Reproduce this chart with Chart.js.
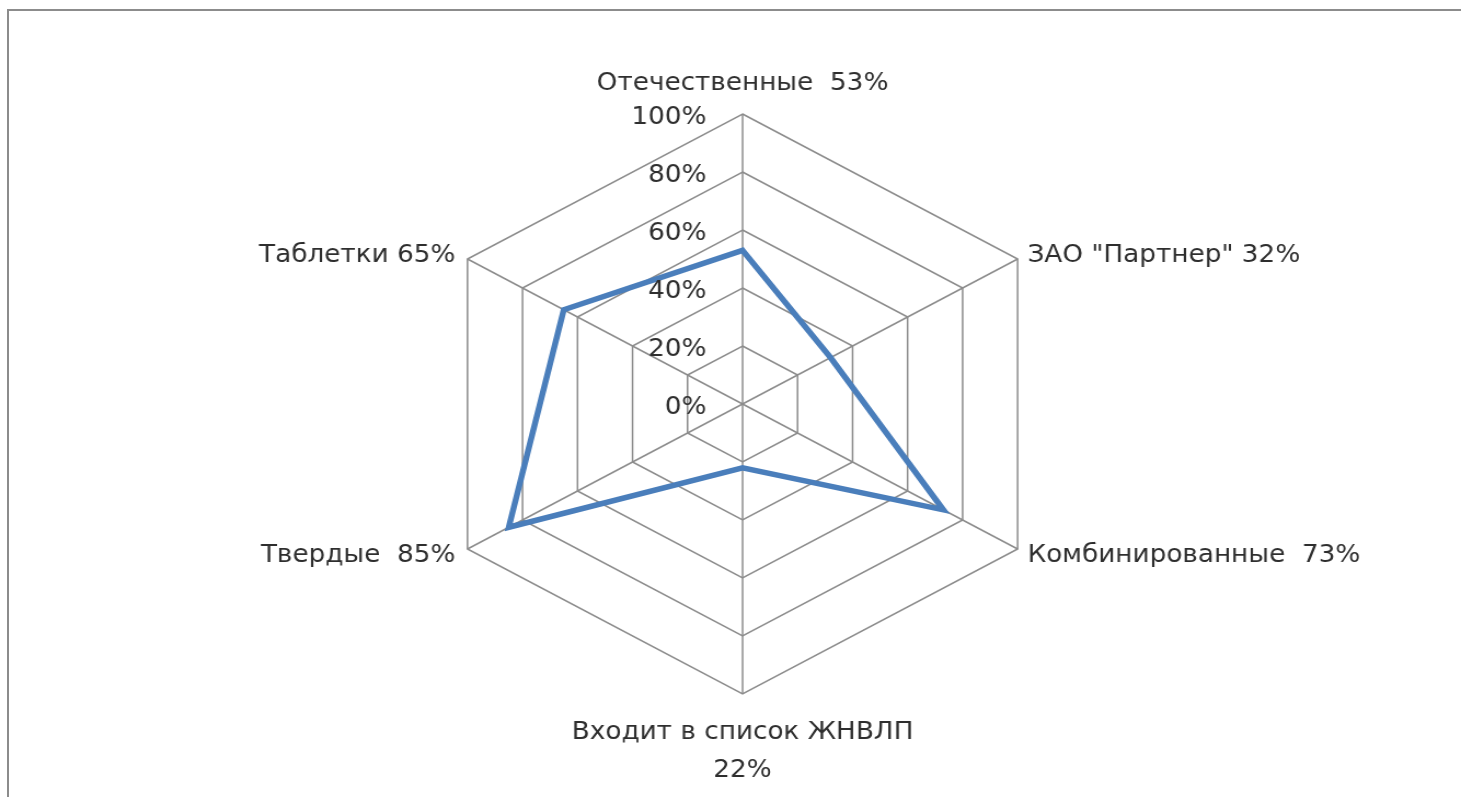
<!DOCTYPE html>
<html>
<head>
<meta charset="utf-8">
<script src="https://cdn.jsdelivr.net/npm/chart.js@4"></script>
<style>
    html, body { margin: 0; padding: 0; background: #fff; overflow: hidden; width: 1461px; height: 797px; }
    .line-top { position: absolute; left: 7px; top: 9px; width: 1454px; height: 2px; background: #8c8c8c; }
    .line-left { position: absolute; left: 7px; top: 9px; width: 2px; height: 788px; background: #8c8c8c; }
    /* the original picture is stretched horizontally, so is this one */
    .stretch {
        position: absolute; left: 0; top: 0; width: 1334px; height: 797px;
        transform: scaleX(1.0952); transform-origin: 0 0;
    }
</style>
</head>
<body>
<div class="stretch"><canvas id="radarChart"></canvas></div>
<div class="line-top"></div>
<div class="line-left"></div>
<script>
const categories = [
    'Отечественные  53%',
    'ЗАО "Партнер" 32%',
    'Комбинированные  73%',
    ['Входит в список ЖНВЛП', '22%'],
    'Твердые  85%',
    'Таблетки 65%'
];
const shareValues = [53, 32, 73, 22, 85, 65];
const tickValues = [0, 20, 40, 60, 80, 100];
const tickLabels = ['0%', '20%', '40%', '60%', '80%', '100%'];

const FONT = '24px "DejaVu Sans"';
const TEXT_COLOR = '#2e2e2e';

// Excel-like labels: ticks to the left of the vertical axis, category labels near the vertices
const labelPlugin = {
    id: 'excelLabels',
    afterDraw(chart) {
        const scale = chart.scales.r;
        const ctx = chart.ctx;
        ctx.save();
        ctx.font = FONT;
        ctx.fillStyle = TEXT_COLOR;

        // tick labels
        ctx.textAlign = 'right';
        ctx.textBaseline = 'middle';
        tickValues.forEach((v, i) => {
            const y = scale.yCenter - scale.getDistanceFromCenterForValue(v);
            ctx.fillText(tickLabels[i], scale.xCenter - 33, y + 4);
        });

        // category labels
        categories.forEach((label, i) => {
            const p = scale.getPointPosition(i, scale.drawingArea);
            const lines = Array.isArray(label) ? label : [label];
            const dx = p.x - scale.xCenter;
            const dy = p.y - scale.yCenter;
            let x = p.x, y = p.y;
            if (Math.abs(dx) < 1) {
                ctx.textAlign = 'center';
                y += dy < 0 ? -30 : 39;
            } else {
                ctx.textAlign = dx > 0 ? 'left' : 'right';
                x += dx > 0 ? 9 : -11;
                y += dy < 0 ? -3 : 7;
            }
            lines.forEach((t, j) => ctx.fillText(t, x, y + j * 38));
        });
        ctx.restore();
    }
};

new Chart(document.getElementById('radarChart'), {
    type: 'radar',
    data: {
        labels: categories,
        datasets: [{
            label: 'Доля',
            data: shareValues,
            borderColor: '#4a7ebb',
            borderWidth: 5.5,
            fill: false,
            pointRadius: 0,
            tension: 0
        }]
    },
    options: {
        responsive: true,
        maintainAspectRatio: false,
        animation: false,
        layout: {
            padding: { top: 114, bottom: 103, left: 388, right: 366 }
        },
        plugins: {
            legend: { display: false },
            tooltip: { enabled: false }
        },
        scales: {
            r: {
                min: 0,
                max: 100,
                ticks: { stepSize: 20, display: false },
                pointLabels: { display: false },
                grid: { color: '#8c8c8c', lineWidth: 1.5 },
                angleLines: { color: '#8c8c8c', lineWidth: 1.5 }
            }
        }
    },
    plugins: [labelPlugin]
});
</script>
</body>
</html>
